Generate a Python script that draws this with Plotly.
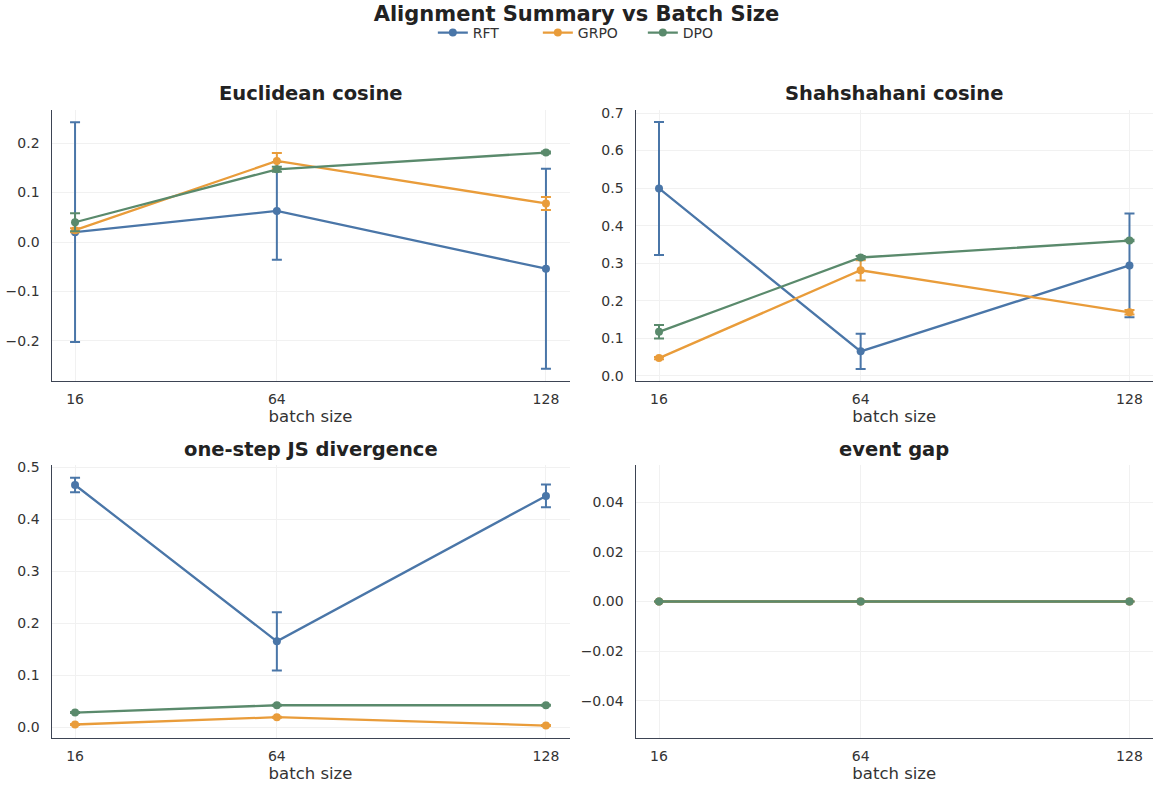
import plotly.graph_objects as go
from plotly.subplots import make_subplots

# Batch sizes on the x axis
batch_sizes = [16, 64, 128]
methods = ["RFT", "GRPO", "DPO"]
colors = {"RFT": "#4a76a8", "GRPO": "#e99c3a", "DPO": "#5a8a6c"}

# Euclidean cosine: mean and std per method
euclid_mean = {"RFT": [0.020, 0.063, -0.054], "GRPO": [0.024, 0.164, 0.078], "DPO": [0.040, 0.147, 0.181]}
euclid_err = {"RFT": [0.222, 0.099, 0.202], "GRPO": [0.004, 0.016, 0.013], "DPO": [0.018, 0.005, 0.002]}

# Shahshahani cosine
shah_mean = {"RFT": [0.499, 0.065, 0.294], "GRPO": [0.047, 0.281, 0.169], "DPO": [0.117, 0.315, 0.360]}
shah_err = {"RFT": [0.177, 0.047, 0.138], "GRPO": [0.003, 0.027, 0.006], "DPO": [0.018, 0.004, 0.002]}

# One-step JS divergence
js_mean = {"RFT": [0.466, 0.165, 0.445], "GRPO": [0.005, 0.019, 0.003], "DPO": [0.028, 0.042, 0.042]}
js_err = {"RFT": [0.014, 0.056, 0.022], "GRPO": [0.001, 0.001, 0.001], "DPO": [0.001, 0.001, 0.001]}

# Event gap
gap_mean = {"RFT": [0.0, 0.0, 0.0], "GRPO": [0.0, 0.0, 0.0], "DPO": [0.0, 0.0, 0.0]}
gap_err = {"RFT": [0.0, 0.0, 0.0], "GRPO": [0.0, 0.0, 0.0], "DPO": [0.0, 0.0, 0.0]}

panels = [
    ("Euclidean cosine", euclid_mean, euclid_err, [-0.281, 0.267], 0.1, ".1f"),
    ("Shahshahani cosine", shah_mean, shah_err, [-0.014, 0.708], 0.1, ".1f"),
    ("one-step JS divergence", js_mean, js_err, [-0.021, 0.5045], 0.1, ".1f"),
    ("event gap", gap_mean, gap_err, [-0.055, 0.055], 0.02, ".2f"),
]

FONT = "DejaVu Sans"
W, H = 1153, 785

fig = make_subplots(rows=2, cols=2)

for i, (title, mean, err, yr, dt, fmt) in enumerate(panels):
    r, c = i // 2 + 1, i % 2 + 1
    for m in methods:
        fig.add_trace(
            go.Scatter(
                x=batch_sizes,
                y=mean[m],
                name=m,
                legendgroup=m,
                showlegend=(i == 0),
                mode="lines+markers",
                line=dict(color=colors[m], width=2.3),
                marker=dict(color=colors[m], size=8),
                error_y=dict(type="data", array=err[m], visible=True,
                             color=colors[m], thickness=2, width=5),
            ),
            row=r, col=c,
        )

# Panel geometry in pixels: (left, right, top, bottom)
px_boxes = [
    (51.5, 569.5, 110, 381),
    (635.5, 1153, 110, 381),
    (51.5, 569.5, 465, 738),
    (635.5, 1153, 465, 738),
]

axis_style = dict(
    showline=True, linecolor="#3d4453", linewidth=1.3, mirror=False,
    showgrid=True, gridcolor="#f1f1f1", gridwidth=1, zeroline=False,
    ticks="", tickfont=dict(family=FONT, size=14, color="#333333"),
    automargin=False,
)

annotations = []
for i, (title, mean, err, yr, dt, fmt) in enumerate(panels):
    l, rgt, t, b = px_boxes[i]
    xa = "xaxis" if i == 0 else f"xaxis{i + 1}"
    ya = "yaxis" if i == 0 else f"yaxis{i + 1}"
    fig.update_layout({
        xa: dict(axis_style, domain=[l / W, rgt / W], range=[10.4, 133.6],
                 tickvals=batch_sizes, ticktext=[str(v) for v in batch_sizes],
                 ticklabelstandoff=5,
                 title=dict(text="batch size", standoff=3,
                            font=dict(family=FONT, size=16.5, color="#333333"))),
        ya: dict(axis_style, domain=[1 - b / H, 1 - t / H], range=yr,
                 dtick=dt, tick0=0, tickformat=fmt, ticklabelstandoff=8),
    })
    annotations.append(dict(
        text=f"<b>{title}</b>", x=(l + rgt) / 2 / W, y=1 - (t - 16) / H,
        xref="paper", yref="paper", showarrow=False,
        xanchor="center", yanchor="middle",
        font=dict(family=FONT, size=19.5, color="#222222"),
    ))

fig.update_layout(
    width=W, height=H,
    margin=dict(l=0, r=0, t=0, b=0),
    paper_bgcolor="white", plot_bgcolor="white",
    font=dict(family=FONT, color="#333333"),
    title=dict(text="<b>Alignment Summary vs Batch Size</b>", x=0.5, y=1 - 14 / H,
               xanchor="center", yanchor="middle",
               font=dict(family=FONT, size=21, color="#222222")),
    legend=dict(orientation="h", x=0.512, y=1 - 33 / H, xanchor="center", yanchor="middle",
                font=dict(family=FONT, size=14, color="#333333"),
                bgcolor="rgba(0,0,0,0)", itemwidth=30,
                entrywidth=60, entrywidthmode="pixels"),
    annotations=annotations,
)

fig.write_html("out.html")
